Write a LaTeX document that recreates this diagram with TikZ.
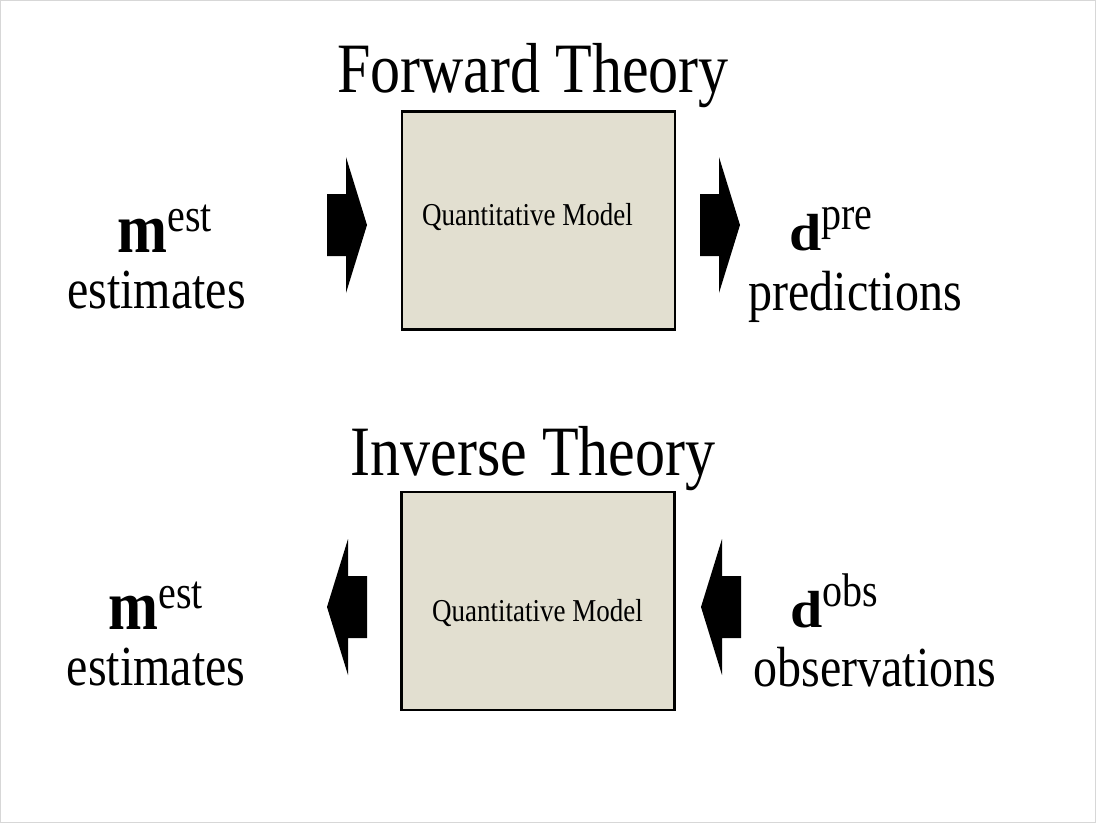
\documentclass[tikz,border=0pt]{standalone}
\usepackage{fontspec}
\setmainfont{Liberation Serif}
\usepackage{graphicx}
\definecolor{modelfill}{RGB}{226,223,208}
\definecolor{framegray}{RGB}{215,215,215}
% text in the slide is a little taller than plain Times
\newcommand\tall[1]{\scalebox{1}[1.18]{#1}}
\newcommand\symb[4]{\raisebox{0pt}[\height][0pt]{\scalebox{1}[#2]{\fontsize{#1}{#1}\selectfont\bfseries #3}\raisebox{21pt}{\tall{\fontsize{40}{40}\selectfont #4}}}}
\tikzset{
  heading/.style={font=\fontsize{60}{70}\selectfont, inner sep=0pt, anchor=base},
  caption/.style={font=\fontsize{48}{56}\selectfont, inner sep=0pt, anchor=base},
  symbol/.style={inner sep=0pt, anchor=base},
  model/.style={draw, fill=modelfill, line width=2.2pt, minimum width=273pt, minimum height=218pt, inner sep=0pt},
  modeltext/.style={font=\fontsize{27}{32}\selectfont, inner sep=0pt, anchor=base},
  fatarrow/.pic={\fill (-19,-31) -- (0,-31) -- (0,-68) -- (21,0) -- (0,68) -- (0,31) -- (-19,31) -- cycle;}
}
\begin{document}
\begin{tikzpicture}[x=1pt, y=-1pt]
\useasboundingbox (0,0) rectangle (1096,823);
\draw[framegray, line width=1pt] (0.5,0.5) rectangle (1095.5,822.5);

% forward theory
\node[heading] (fwdtitle) at (533,92) {\tall{Forward Theory}};
\node[model] (fwdbox) at (538.5,220.5) {};
\node[modeltext] (fwdtext) at (527.5,225) {\tall{Quantitative Model}};
\node[symbol] (fwdm) at (164.5,252) {\symb{60}{1.18}{m}{est}};
\node[caption] (fwdest) at (156.5,308) {\tall{estimates}};
\node[symbol] (fwdd) at (831,250) {\symb{58}{0.9}{d}{pre}};
\node[caption] (fwdpre) at (855,310) {\tall{predictions}};
\pic (fwdin) at (346,225) {fatarrow};
\pic (fwdout) at (719,225) {fatarrow};

% inverse theory
\node[heading] (invtitle) at (533,475) {\tall{Inverse Theory}};
\node[model] (invbox) at (538,601) {};
\node[modeltext] (invtext) at (537.5,621) {\tall{Quantitative Model}};
\node[symbol] (invm) at (155.5,629) {\symb{60}{1.18}{m}{est}};
\node[caption] (invest) at (156,685) {\tall{estimates}};
\node[symbol] (invd) at (834,627) {\symb{58}{0.9}{d}{obs}};
\node[caption] (invobs) at (875,686) {\tall{observations}};
\pic[xscale=-1] (invout) at (348,607) {fatarrow};
\pic[xscale=-1] (invin) at (722,607) {fatarrow};
\end{tikzpicture}
\end{document}
